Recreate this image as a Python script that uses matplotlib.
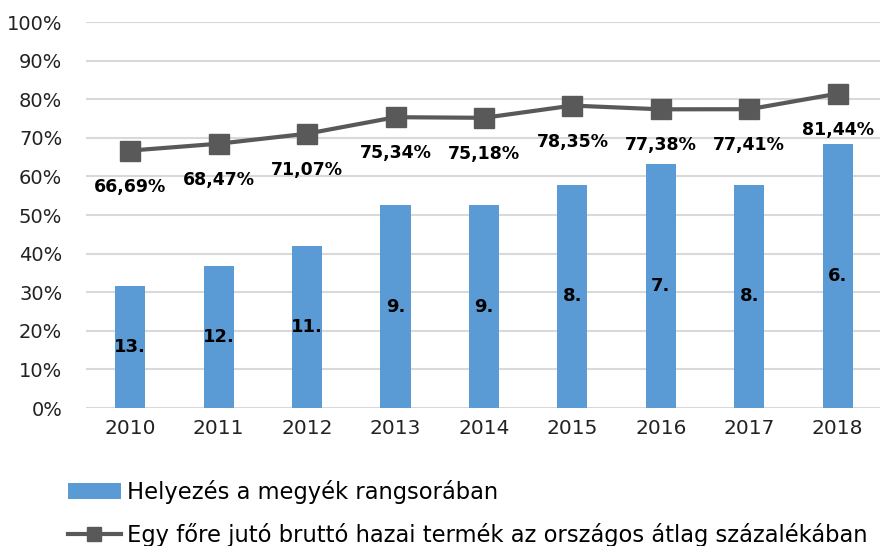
import matplotlib.pyplot as plt

years = ["2010", "2011", "2012", "2013", "2014", "2015", "2016", "2017", "2018"]
rank_labels = ["13.", "12.", "11.", "9.", "9.", "8.", "7.", "8.", "6."]
rank_bars = [31.6, 36.8, 42.1, 52.6, 52.6, 57.9, 63.2, 57.9, 68.4]
gdp_pct = [66.69, 68.47, 71.07, 75.34, 75.18, 78.35, 77.38, 77.41, 81.44]

plt.rcParams['font.family'] = ['DejaVu Sans']

fig = plt.figure(figsize=(8.8, 5.46), dpi=100)
ax = fig.add_axes([0.0977, 0.2527, 0.9045, 0.707])

x = range(len(years))
bars = ax.bar(x, rank_bars, width=0.34, color="#5B9BD5", zorder=2,
              label="Helyezés a megyék rangsorában")
line, = ax.plot(x, gdp_pct, color="#595959", lw=3, marker="s", markersize=14,
                zorder=3, label="Egy főre jutó bruttó hazai termék az országos átlag százalékában")

for i, v in enumerate(rank_bars):
    ax.text(i, v / 2, rank_labels[i], ha="center", va="center",
            fontsize=13, fontweight="bold", color="black", zorder=4)
for i, v in enumerate(gdp_pct):
    ax.annotate(f"{v:.2f}%".replace(".", ","), (i, v), xytext=(0, -26),
                textcoords="offset points", ha="center", va="center",
                fontsize=12.5, fontweight="bold", color="black", zorder=4)

ax.set_xlim(-0.5, len(years) - 0.5)
ax.set_ylim(0, 100)
ax.set_yticks(range(0, 101, 10))
ax.set_yticklabels([f"{t}%" for t in range(0, 101, 10)], fontsize=14, color="#222222")
ax.set_xticks(list(x))
ax.set_xticklabels(years, fontsize=14.5, color="#222222")
ax.tick_params(axis="y", length=0, pad=17)
ax.tick_params(axis="x", length=0, pad=8)
ax.grid(axis="y", color="#D9D9D9", lw=1.5, zorder=0)
for s in ax.spines.values():
    s.set_visible(False)

leg_kw = dict(loc="center left", frameon=False, fontsize=16.3, handlelength=2.35,
              handletextpad=0.27, borderaxespad=0, borderpad=0)
fig.legend(handles=[bars], bbox_to_anchor=(0.077, 0.099), **leg_kw)
fig.legend(handles=[line], bbox_to_anchor=(0.077, 0.020), markerscale=0.77, **leg_kw)

fig.savefig("out.png", dpi=100)
